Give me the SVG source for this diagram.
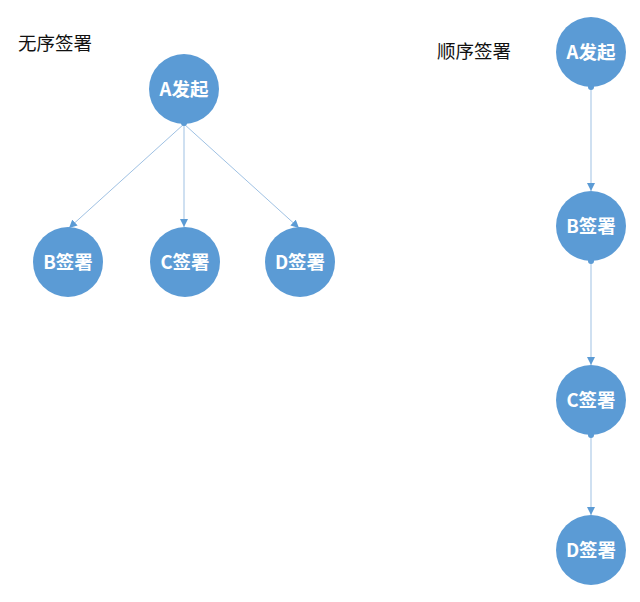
<svg xmlns="http://www.w3.org/2000/svg" width="640" height="602" viewBox="0 0 640 602">
<style>
.node{fill:#5b9bd5;}
.lbl{fill:#ffffff;font-family:"Noto Sans CJK SC","Liberation Sans",sans-serif;font-size:18.5px;font-weight:bold;text-anchor:middle;}
.title{fill:#111111;font-family:"Noto Sans CJK SC",sans-serif;font-size:18.5px;}
.edge{stroke:#9fc1e3;stroke-width:1;fill:none;marker-end:url(#arr);}
.dot{fill:#5b9bd5;}
</style>
<defs>
<marker id="arr" viewBox="0 0 10 10" refX="10" refY="5" markerWidth="8" markerHeight="8" markerUnits="userSpaceOnUse" orient="auto">
<path d="M0,0 L10,5 L0,10 z" fill="#5b9bd5"/>
</marker>
</defs>
<rect width="640" height="602" fill="#ffffff"/>
<text class="title" x="18" y="50">无序签署</text>
<text class="title" x="437" y="58">顺序签署</text>
<g id="connectors">
<line class="edge" x1="184" y1="124" x2="69" y2="228"/>
<line class="edge" x1="184" y1="124" x2="184" y2="227"/>
<line class="edge" x1="184" y1="124" x2="299" y2="228"/>
<line class="edge" x1="591" y1="87" x2="591" y2="191"/>
<line class="edge" x1="591" y1="261" x2="591" y2="365"/>
<line class="edge" x1="591" y1="435" x2="591" y2="515"/>
<circle class="dot" cx="184" cy="123" r="3"/>
<circle class="dot" cx="591" cy="87" r="3"/>
<circle class="dot" cx="591" cy="261" r="3"/>
<circle class="dot" cx="591" cy="435" r="3"/>
</g>
<g id="left-A"><circle class="node" cx="184" cy="89" r="35"/><text class="lbl" x="184" y="95.5">A发起</text></g>
<g id="left-B"><circle class="node" cx="68" cy="262" r="35"/><text class="lbl" x="68" y="268.5">B签署</text></g>
<g id="left-C"><circle class="node" cx="185" cy="262" r="35"/><text class="lbl" x="185" y="268.5">C签署</text></g>
<g id="left-D"><circle class="node" cx="300" cy="262" r="35"/><text class="lbl" x="300" y="268.5">D签署</text></g>
<g id="right-A"><circle class="node" cx="591" cy="52" r="35"/><text class="lbl" x="591" y="58.5">A发起</text></g>
<g id="right-B"><circle class="node" cx="591" cy="226" r="35"/><text class="lbl" x="591" y="232.5">B签署</text></g>
<g id="right-C"><circle class="node" cx="591" cy="400" r="35"/><text class="lbl" x="591" y="406.5">C签署</text></g>
<g id="right-D"><circle class="node" cx="591" cy="550" r="35"/><text class="lbl" x="591" y="556.5">D签署</text></g>
</svg>
